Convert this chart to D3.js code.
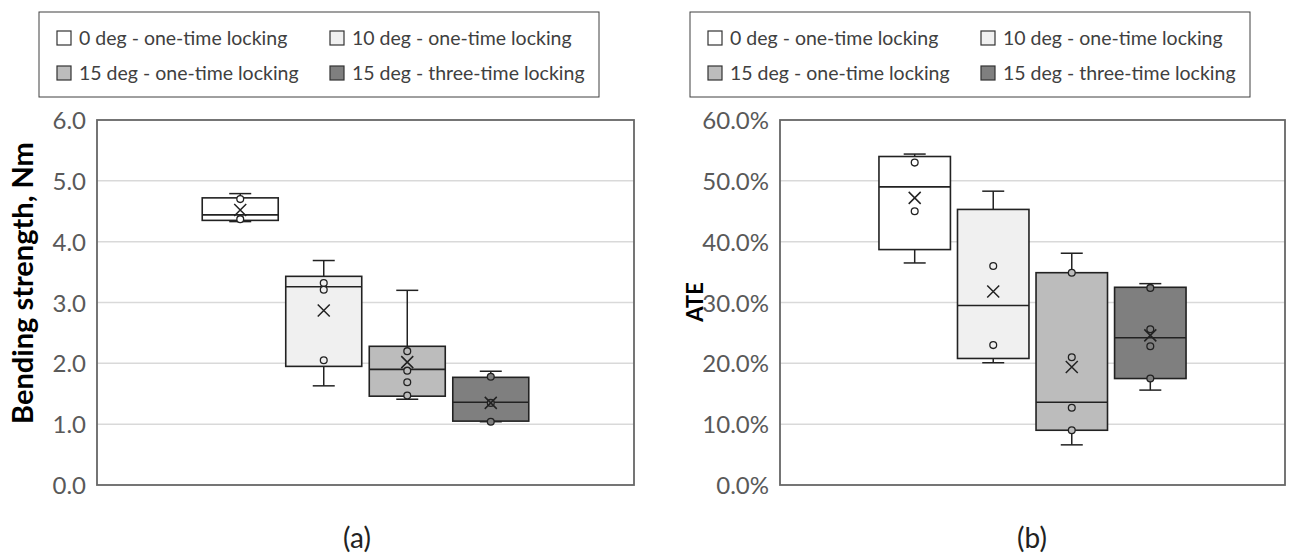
<!DOCTYPE html>
<meta charset="utf-8">
<title>Bending strength and ATE box plots</title>
<script src="https://d3js.org/d3.v7.min.js"></script>
<style>
  body { margin: 0; background: #fff; }
  text { font-family: Lato, "Open Sans", sans-serif; }
  .tick-label { font-size: 24px; fill: #595959; }
  .legend-text { font-size: 19.5px; fill: #404040; }
  .axis-title { font-weight: bold; fill: #000; }
  .panel-label { font-size: 28px; fill: #222; }
</style>
<div id="chart"></div>
<script>
// series names (same for both panels)
var seriesNames = ["0 deg - one-time locking", "10 deg - one-time locking",
                   "15 deg - one-time locking", "15 deg - three-time locking"];
var seriesFills = ["#ffffff", "#f0f0f0", "#bcbcbc", "#7f7f7f"];

// (a) bending strength, Nm
var bendLow    = [4.33, 1.63, 1.41, 1.04];
var bendQ1     = [4.35, 1.95, 1.46, 1.05];
var bendMedian = [4.44, 3.26, 1.90, 1.36];
var bendQ3     = [4.72, 3.43, 2.28, 1.77];
var bendHigh   = [4.79, 3.69, 3.20, 1.87];
var bendMean   = [4.52, 2.87, 2.02, 1.35];
var bendPoints = [[4.70, 4.37], [3.32, 3.21, 2.05], [2.20, 1.88, 1.69, 1.47], [1.78, 1.35, 1.04]];
var bendTicks  = [0, 1, 2, 3, 4, 5, 6];

// (b) ATE
var ateLow    = [0.365, 0.201, 0.066, 0.156];
var ateQ1     = [0.387, 0.208, 0.090, 0.175];
var ateMedian = [0.490, 0.295, 0.136, 0.242];
var ateQ3     = [0.540, 0.453, 0.349, 0.325];
var ateHigh   = [0.544, 0.483, 0.381, 0.331];
var ateMean   = [0.472, 0.318, 0.194, 0.246];
var atePoints = [[0.530, 0.450], [0.360, 0.230], [0.349, 0.210, 0.127, 0.090], [0.324, 0.256, 0.228, 0.175]];
var ateTicks  = [0, 0.1, 0.2, 0.3, 0.4, 0.5, 0.6];

var W = 1290, H = 558;
var svg = d3.select("#chart").append("svg")
    .attr("width", W).attr("height", H);

function drawPanel(p) {
  var g = svg.append("g");

  var y = d3.scaleLinear().domain([0, p.max]).range([485, 120]);
  var x = d3.scaleBand().domain(d3.range(seriesNames.length))
      .range([p.left, p.right]).paddingInner(0.09).paddingOuter(1.26);
  var bw = x.bandwidth();

  // gridlines
  g.selectAll(".grid").data(p.ticks.slice(1, -1)).enter()
    .append("line")
      .attr("x1", p.left).attr("x2", p.right)
      .attr("y1", function(d) { return y(d); })
      .attr("y2", function(d) { return y(d); })
      .attr("stroke", "#d9d9d9").attr("stroke-width", 1.5);

  // tick labels
  g.selectAll(".tick-label").data(p.ticks).enter()
    .append("text")
      .attr("class", "tick-label")
      .attr("x", p.left - 11)
      .attr("y", function(d) { return y(d) + 9; })
      .attr("text-anchor", "end")
      .text(p.fmt);

  // boxes
  var idx = d3.range(seriesNames.length);
  var box = g.selectAll(".box").data(idx).enter().append("g");

  box.append("line")
      .attr("x1", function(i) { return x(i) + bw / 2; })
      .attr("x2", function(i) { return x(i) + bw / 2; })
      .attr("y1", function(i) { return y(p.high[i]); })
      .attr("y2", function(i) { return y(p.low[i]); })
      .attr("stroke", "#222").attr("stroke-width", 1.5);

  [p.high, p.low].forEach(function(arr) {
    box.append("line")
        .attr("x1", function(i) { return x(i) + bw / 2 - 11; })
        .attr("x2", function(i) { return x(i) + bw / 2 + 11; })
        .attr("y1", function(i) { return y(arr[i]); })
        .attr("y2", function(i) { return y(arr[i]); })
        .attr("stroke", "#222").attr("stroke-width", 1.5);
  });

  box.append("rect")
      .attr("x", function(i) { return x(i); })
      .attr("width", bw)
      .attr("y", function(i) { return y(p.q3[i]); })
      .attr("height", function(i) { return y(p.q1[i]) - y(p.q3[i]); })
      .attr("fill", function(i) { return seriesFills[i]; })
      .attr("stroke", "#222").attr("stroke-width", 1.6);

  box.append("line")
      .attr("x1", function(i) { return x(i); })
      .attr("x2", function(i) { return x(i) + bw; })
      .attr("y1", function(i) { return y(p.median[i]); })
      .attr("y2", function(i) { return y(p.median[i]); })
      .attr("stroke", "#222").attr("stroke-width", 1.6);

  // inner points
  box.each(function(i) {
    d3.select(this).selectAll("circle").data(p.points[i]).enter()
      .append("circle")
        .attr("cx", x(i) + bw / 2)
        .attr("cy", function(d) { return y(d); })
        .attr("r", 3.4)
        .attr("fill", seriesFills[i])
        .attr("stroke", "#222").attr("stroke-width", 1.3);
  });

  // mean marker (x)
  box.append("path")
      .attr("d", function(i) {
        var cx = x(i) + bw / 2, cy = y(p.mean[i]), s = 6;
        return "M" + (cx - s) + "," + (cy - s) + "L" + (cx + s) + "," + (cy + s) +
               "M" + (cx - s) + "," + (cy + s) + "L" + (cx + s) + "," + (cy - s);
      })
      .attr("stroke", "#222").attr("stroke-width", 1.5).attr("fill", "none");

  // plot border
  g.append("rect")
      .attr("x", p.left).attr("y", 120)
      .attr("width", p.right - p.left).attr("height", 365)
      .attr("fill", "none").attr("stroke", "#666").attr("stroke-width", 1.8);

  // axis title
  g.append("text")
      .attr("class", "axis-title")
      .style("font-size", p.titleSize + "px")
      .attr("transform", "translate(" + p.titleX + "," + p.titleY + ") rotate(-90)")
      .attr("text-anchor", "middle")
      .text(p.title);

  // panel label
  g.append("text")
      .attr("class", "panel-label")
      .attr("x", p.labelX)
      .attr("y", 548)
      .attr("text-anchor", "middle")
      .text(p.label);

  // legend
  var lg = g.append("g").attr("transform", "translate(" + p.legendX + ",12)");
  lg.append("rect")
      .attr("width", 560).attr("height", 85)
      .attr("fill", "#fff").attr("stroke", "#404040").attr("stroke-width", 1);
  var item = lg.selectAll(".item").data(idx).enter().append("g")
      .attr("transform", function(i) {
        return "translate(" + (i % 2 === 0 ? 18 : 291) + "," + (i < 2 ? 19 : 54) + ")";
      });
  item.append("rect")
      .attr("width", 14).attr("height", 14)
      .attr("fill", function(i) { return seriesFills[i]; })
      .attr("stroke", "#333").attr("stroke-width", 1.2);
  item.append("text")
      .attr("class", "legend-text")
      .attr("x", 22).attr("y", 14)
      .text(function(i) { return seriesNames[i]; });
}

drawPanel({
  left: 97, right: 634, max: 6, ticks: bendTicks, fmt: d3.format(".1f"),
  low: bendLow, q1: bendQ1, median: bendMedian, q3: bendQ3, high: bendHigh,
  mean: bendMean, points: bendPoints,
  title: "Bending strength, Nm", titleSize: 29, titleX: 33, titleY: 283,
  label: "(a)", labelX: 357, legendX: 39
});

drawPanel({
  left: 780, right: 1285, max: 0.6, ticks: ateTicks, fmt: d3.format(".1%"),
  low: ateLow, q1: ateQ1, median: ateMedian, q3: ateQ3, high: ateHigh,
  mean: ateMean, points: atePoints,
  title: "ATE", titleSize: 22, titleX: 703, titleY: 302,
  label: "(b)", labelX: 1032, legendX: 690
});
</script>
